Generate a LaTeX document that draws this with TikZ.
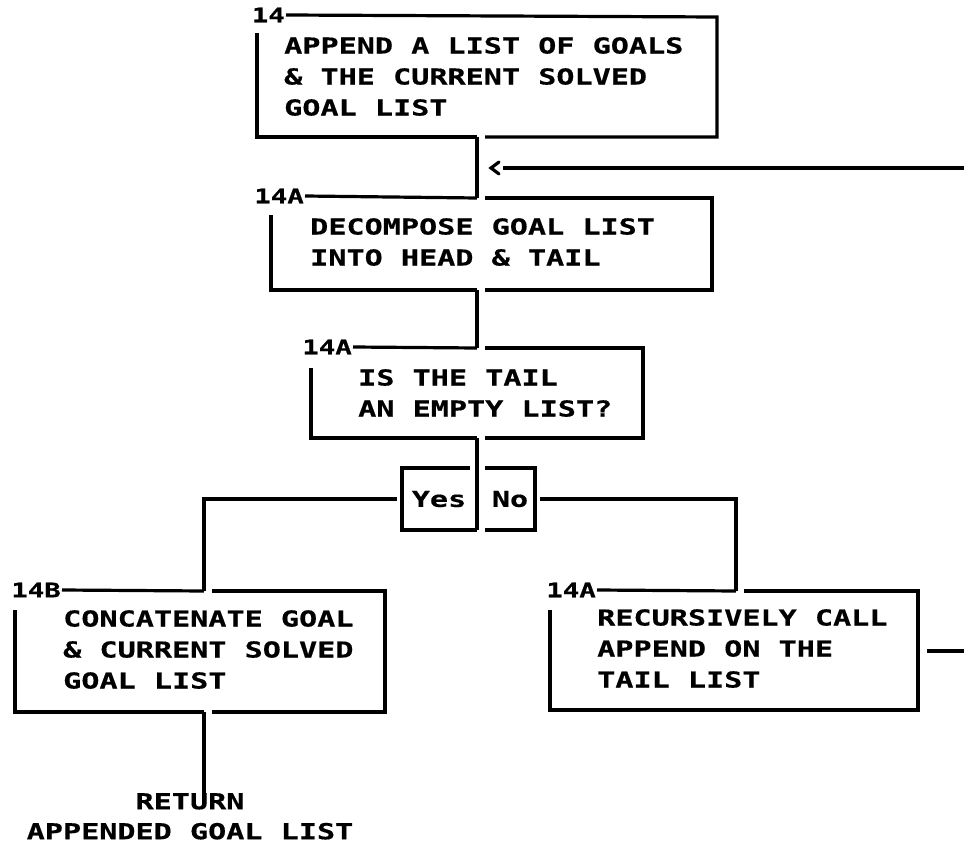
\documentclass[tikz,border=0pt]{standalone}
\usepackage{fontspec}
\setmainfont{DejaVu Sans}
% fixed-pitch plotter-style lettering: widened bold monospace
\newfontfamily\plotfont[UprightFont={* Bold},FakeStretch=1.37,FakeBold=0.5]{DejaVu Sans Mono}
\begin{document}
\begin{tikzpicture}[x=1pt,y=-1pt,
  flow/.style={line width=3.2pt},
  boxtext/.style={font=\plotfont\fontsize{22}{31}\selectfont,
    align=left, anchor=north west, inner sep=0pt},
  tag/.style={font=\plotfont\fontsize{20}{22}\selectfont,
    anchor=east, inner sep=1pt},
  answer/.style={font=\plotfont\fontsize{22}{24}\selectfont,
    inner sep=0pt},
  endtext/.style={font=\plotfont\fontsize{22}{30}\selectfont,
    align=center, anchor=north, inner sep=0pt}]
\useasboundingbox (0,0) rectangle (964,845);

% ---- step 14: append ----
\node[tag] (tag1) at (286,15) {14};
\draw[flow] (tag1.east) -- (717,17) -- (717,137) -- (485,137);
\draw[flow] (477,137) -- (257,137) -- (257,33);
\node[boxtext] (txt1) at (284,37)
  {APPEND A LIST OF GOALS\\\& THE CURRENT SOLVED\\GOAL LIST};
\coordinate (out1) at (477,137);

% ---- step 14A: decompose ----
\coordinate (in2) at (477,198);
\node[tag] (tag2) at (305,196) {14A};
\draw[flow] (tag2.east) -- (in2);
\draw[flow] (485,198) -- (712,198) -- (712,290) -- (485,290);
\draw[flow] (477,290) -- (271,290) -- (271,215);
\node[boxtext] (txt2) at (310,218)
  {DECOMPOSE GOAL LIST\\INTO HEAD \& TAIL};
\coordinate (out2) at (477,290);

% ---- step 14A: test ----
\coordinate (in3) at (477,348);
\node[tag] (tag3) at (353,347) {14A};
\draw[flow] (tag3.east) -- (in3);
\draw[flow] (485,348) -- (643,348) -- (643,438) -- (485,438);
\draw[flow] (477,438) -- (311,438) -- (311,368);
\node[boxtext] (txt3) at (358,369)
  {IS THE TAIL\\AN EMPTY LIST?};
\coordinate (out3) at (477,438);

% ---- Yes / No branch ----
\coordinate (split) at (477,530);
\draw[flow] (out1) -- (in2);
\draw[flow] (out2) -- (in3);
\draw[flow] (out3) -- (split);
\draw[flow] (470,468) -- (402,468) -- (402,530) -- (split);
\draw[flow] (485,468) -- (535,468) -- (535,530) -- (485,530);
\node[answer] (yes) at (439,499) {Yes};
\node[answer] (no) at (510,499) {No};
\coordinate (yesend) at (397,499);
\coordinate (noend) at (540,499);
\coordinate (in4) at (204,591);
\coordinate (in5) at (736,591);
\draw[flow] (yesend) -| (in4);
\draw[flow] (noend) -| (in5);

% ---- step 14B: concatenate ----
\node[tag] (tag4) at (62,590) {14B};
\draw[flow] (tag4.east) -- (in4);
\draw[flow] (212,591) -- (385,591) -- (385,712) -- (212,712);
\draw[flow] (204,712) -- (15,712) -- (15,610);
\node[boxtext] (txt4) at (63,610)
  {CONCATENATE GOAL\\\& CURRENT SOLVED\\GOAL LIST};
\coordinate (out4) at (204,712);
\coordinate (ret) at (204,794);
\draw[flow] (out4) -- (ret);
\node[endtext] (rettxt) at (190,793) {RETURN\\APPENDED GOAL LIST};

% ---- step 14A: recursive call ----
\node[tag] (tag5) at (597,590) {14A};
\draw[flow] (tag5.east) -- (in5);
\draw[flow] (744,591) -- (918,591) -- (918,710) -- (550,710) -- (550,610);
\node[boxtext] (txt5) at (597,609)
  {RECURSIVELY CALL\\APPEND ON THE\\TAIL LIST};

% ---- loop back to the decompose step ----
\coordinate (loopout) at (927,651);
\coordinate (loopedge) at (964,651);
\draw[flow] (loopout) -- (loopedge);
\coordinate (backedge) at (964,168);
\coordinate (backend) at (503,168);
\draw[flow] (backedge) -- (backend);
\draw[flow, line cap=round] (499,162) -- (491,168) -- (499,174);
\end{tikzpicture}
\end{document}
